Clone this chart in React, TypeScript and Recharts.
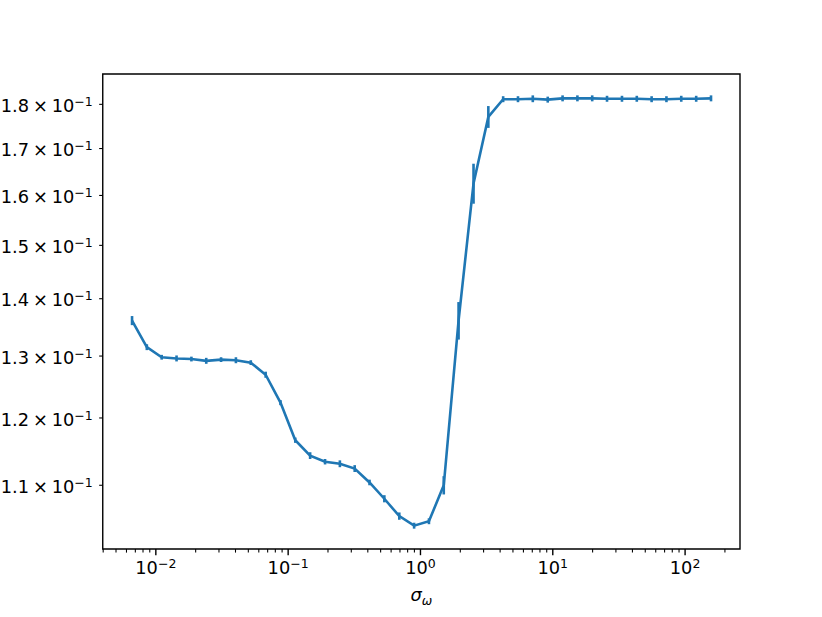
import React from "react";
import { ErrorBar, Line, LineChart, ReferenceArea, XAxis, YAxis } from "recharts";

// sigma_omega values (log spaced)
const sigma = [
  0.00661, 0.00855, 0.01107, 0.01434, 0.01857, 0.02404, 0.03112, 0.04029, 0.0522, 0.06761,
  0.0875, 0.1132, 0.1466, 0.1901, 0.246, 0.3184, 0.4121, 0.5333, 0.6918, 0.8954,
  1.159, 1.5, 1.941, 2.518, 3.258, 4.217, 5.458, 7.063, 9.162, 11.86,
  15.35, 19.86, 25.7, 33.34, 43.15, 55.85, 72.28, 93.54, 121.3, 157.0,
];
const meanVal = [
  0.1361, 0.1315, 0.1298, 0.1296, 0.1295, 0.1292, 0.1294, 0.1293, 0.1289, 0.1269,
  0.1224, 0.1166, 0.1143, 0.1134, 0.1131, 0.1124, 0.1104, 0.1081, 0.1057, 0.1044,
  0.105, 0.11, 0.1361, 0.1625, 0.1771, 0.1812, 0.1812, 0.1813, 0.1811, 0.1814,
  0.1814, 0.1814, 0.1813, 0.1813, 0.1813, 0.1812, 0.1812, 0.1813, 0.1813, 0.1814,
];
const errVal = [
  0.0008, 0.0005, 0.0004, 0.0005, 0.0004, 0.0005, 0.0004, 0.0005, 0.0004, 0.0005,
  0.0004, 0.0004, 0.0005, 0.0004, 0.0005, 0.0005, 0.0004, 0.0005, 0.0005, 0.0004,
  0.0004, 0.0013, 0.0033, 0.0042, 0.0025, 0.0007, 0.0007, 0.0008, 0.0007, 0.0007,
  0.0007, 0.0007, 0.0007, 0.0007, 0.0007, 0.0007, 0.0007, 0.0007, 0.0007, 0.0007,
];

const xMajor = [0.01, 0.1, 1, 10, 100];
const xExp = ["\u22122", "\u22121", "0", "1", "2"];
const xMinorMant = [2, 3, 4, 5, 6, 7, 8, 9];
const xDecades = [0.001, 0.01, 0.1, 1, 10, 100];
const yTicks = [0.11, 0.12, 0.13, 0.14, 0.15, 0.16, 0.17, 0.18];
const yMant = ["1.1", "1.2", "1.3", "1.4", "1.5", "1.6", "1.7", "1.8"];

const X_DOMAIN = [0.00397, 260];
const Y_DOMAIN = [0.1013, 0.1872];
const FONT = "DejaVu Sans";
const BLUE = "#1f77b4";

const data = sigma.map((s, i) => ({ s, v: meanVal[i], e: errVal[i] }));
const xMinor = xDecades
  .flatMap((d) => xMinorMant.map((m) => +(m * d).toPrecision(3)))
  .filter((v) => v >= X_DOMAIN[0] && v <= X_DOMAIN[1]);
const xTicks = [...xMajor, ...xMinor].sort((a, b) => a - b);

function XTick({ x, y, payload }: any) {
  const i = xMajor.indexOf(payload.value);
  if (i < 0) {
    return <line x1={x} x2={x} y1={y} y2={y + 3.6} stroke="#000" strokeWidth={1.07} />;
  }
  return (
    <g>
      <line x1={x} x2={x} y1={y} y2={y + 6.2} stroke="#000" strokeWidth={1.4} />
      <text x={x} y={y + 25} textAnchor="middle" fontFamily={FONT} fontSize={17.8} fill="#000">
        10
        <tspan dy={-6} fontSize={12.5}>
          {xExp[i]}
        </tspan>
      </text>
    </g>
  );
}

function YTick({ x, y, payload }: any) {
  const i = yTicks.indexOf(payload.value);
  return (
    <g>
      <line x1={x} x2={x - 3.6} y1={y} y2={y} stroke="#000" strokeWidth={1.07} />
      <text x={x - 10} y={y + 7.7} textAnchor="end" fontFamily={FONT} fontSize={17.8} fill="#000">
        {yMant[i]}
        <tspan dx={4}>×</tspan>
        <tspan dx={3.8}>10</tspan>
        <tspan dy={-6} fontSize={12.5}>
          {"\u22121"}
        </tspan>
      </text>
    </g>
  );
}

function XLabel(props: any) {
  const vb = props.viewBox;
  return (
    <text
      x={vb.x + vb.width / 2}
      y={vb.y + 52}
      textAnchor="middle"
      fontFamily={FONT}
      fontStyle="italic"
      fontSize={17.8}
      fill="#000"
    >
      σ
      <tspan dy={3.5} fontSize={12.5}>
        ω
      </tspan>
    </text>
  );
}

export default function App() {
  return (
    <div style={{ position: "absolute", left: 0, top: 0, background: "#fff" }}>
      <LineChart width={822} height={617} data={data} margin={{ top: 74, right: 82, bottom: 0, left: 0 }}>
        <XAxis
          dataKey="s"
          type="number"
          scale="log"
          domain={X_DOMAIN}
          allowDataOverflow
          ticks={xTicks}
          interval={0}
          tick={<XTick />}
          tickLine={false}
          tickSize={0}
          tickMargin={0}
          axisLine={false}
          height={68}
          label={{ content: XLabel }}
        />
        <YAxis
          type="number"
          scale="log"
          domain={Y_DOMAIN}
          allowDataOverflow
          ticks={yTicks}
          interval={0}
          tick={<YTick />}
          tickLine={false}
          tickSize={0}
          tickMargin={0}
          axisLine={false}
          width={102.75}
        />
        <ReferenceArea
          x1={X_DOMAIN[0]}
          x2={X_DOMAIN[1]}
          y1={Y_DOMAIN[0]}
          y2={Y_DOMAIN[1]}
          fill="none"
          stroke="#000"
          strokeWidth={1.4}
          ifOverflow="visible"
        />
        <Line
          dataKey="v"
          type="linear"
          stroke={BLUE}
          strokeWidth={2.6}
          dot={false}
          isAnimationActive={false}
        >
          <ErrorBar dataKey="e" width={0} stroke={BLUE} strokeWidth={2.6} direction="y" isAnimationActive={false} />
        </Line>
      </LineChart>
    </div>
  );
}
